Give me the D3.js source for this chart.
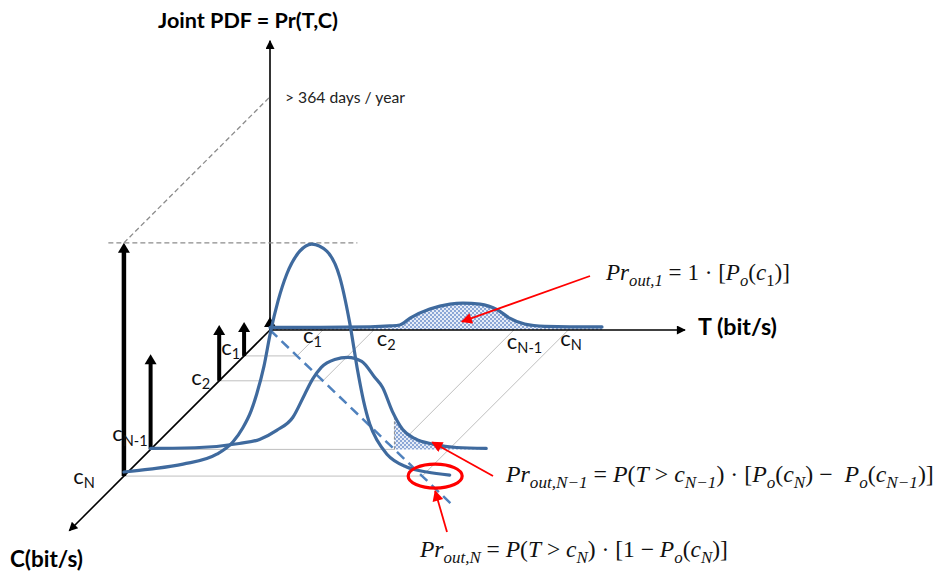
<!DOCTYPE html>
<html>
<head>
<meta charset="utf-8">
<script src="https://cdn.jsdelivr.net/npm/d3@7"></script>
<style>
  html, body { margin: 0; padding: 0; background: #fff; }
</style>
</head>
<body>
<div id="chart"></div>
<script>
// capacity levels, same units on the T axis and on the C axis
const capSubs = ["1", "2", "N-1", "N"];
const capValues = [1.02, 2.0, 4.7, 5.75];
// probability mass of C at each level (black arrows)
const capMass = [0.143, 0.235, 0.40, 0.98];
const zeroMass = 0.055;

// PDF of T on three slices: back plane, c_{N-1}, c_N
const tBack   = [0, 0.96, 1.93, 2.31, 2.50, 2.70, 3.08, 3.47, 3.72, 4.05, 4.39, 4.62, 4.91, 5.30, 5.78, 6.40];
const pdfBack = [0.011, 0.011, 0.013, 0.017, 0.021, 0.05, 0.088, 0.109, 0.113, 0.109, 0.084, 0.05, 0.025, 0.015, 0.013, 0.013];
const tNm1    = [0, 0.94, 1.71, 2.10, 2.43, 2.74, 2.97, 3.12, 3.29, 3.55, 3.80, 4.07, 4.32, 4.47, 4.66, 4.86, 5.09, 5.47, 5.90, 6.47];
const pdfNm1  = [0.004, 0.008, 0.025, 0.042, 0.080, 0.134, 0.231, 0.294, 0.345, 0.378, 0.387, 0.370, 0.303, 0.261, 0.160, 0.084, 0.046, 0.021, 0.008, 0.004];
const tN      = [0, 0.50, 1.14, 1.79, 2.10, 2.29, 2.45, 2.56, 2.70, 2.83, 2.97, 3.14, 3.39, 3.62, 3.91, 4.16, 4.35, 4.51, 4.62, 4.74, 4.89, 5.07, 5.45, 5.84, 6.28];
const pdfN    = [0.017, 0.029, 0.050, 0.092, 0.143, 0.202, 0.273, 0.345, 0.462, 0.609, 0.735, 0.849, 0.945, 0.975, 0.945, 0.836, 0.647, 0.437, 0.315, 0.218, 0.147, 0.092, 0.038, 0.017, 0.004];

// texts
const titleText = "Joint PDF = Pr(T,C)";
const tAxisText = "T (bit/s)";
const cAxisText = "C(bit/s)";
const daysText = "> 364 days / year";
const formula1 = [["Pr","i"],["out,1","si"],[" = 1 · [","n"],["P","i"],["o","si"],["(","n"],["c","i"],["1","sn"],[")]","n"]];
const formula2 = [["Pr","i"],["out,N−1","si"],[" = ","n"],["P","i"],["(","n"],["T","i"],[" > ","n"],["c","i"],["N−1","si"],[") · [","n"],["P","i"],["o","si"],["(","n"],["c","i"],["N","si"],[") −  ","n"],["P","i"],["o","si"],["(","n"],["c","i"],["N−1","si"],[")]","n"]];
const formula3 = [["Pr","i"],["out,N","si"],[" = ","n"],["P","i"],["(","n"],["T","i"],[" > ","n"],["c","i"],["N","si"],[") · [1 − ","n"],["P","i"],["o","si"],["(","n"],["c","i"],["N","si"],[")]","n"]];

const width = 936, height = 573;
const ox = 270, oy = 330;

const tScale = d3.scaleLinear().domain([0, 8]).range([0, 415]);
const cScale = d3.scaleLinear().domain([0, 7.9]).range([0, 200.7]);
const zScale = d3.scaleLinear().domain([0, 1]).range([0, 238]);

// oblique projection: T to the right, C down-left at 45deg, PDF up
const proj = (t, c, z) => [ox + tScale(t) - cScale(c), oy + cScale(c) - zScale(z)];

const svg = d3.select('#chart').append('svg')
    .attr('width', width)
    .attr('height', height)
    .style('font-family', 'Lato, "Open Sans", sans-serif');

const defs = svg.append('defs');

// light blue check pattern for the outage areas
const pat = defs.append('pattern')
    .attr('id', 'hatch')
    .attr('patternUnits', 'userSpaceOnUse')
    .attr('width', 4).attr('height', 4);
pat.append('rect').attr('width', 4).attr('height', 4).attr('fill', '#e6ecf7');
pat.append('rect').attr('width', 2).attr('height', 2).attr('fill', '#8ca7d6');
pat.append('rect').attr('x', 2).attr('y', 2).attr('width', 2).attr('height', 2).attr('fill', '#8ca7d6');

function addMarker(id, color, w, h) {
    defs.append('marker')
        .attr('id', id)
        .attr('viewBox', '0 0 10 10')
        .attr('refX', 9).attr('refY', 5)
        .attr('markerUnits', 'userSpaceOnUse')
        .attr('markerWidth', w).attr('markerHeight', h)
        .attr('orient', 'auto')
        .append('path')
        .attr('d', 'M0,0 L10,5 L0,10 Z')
        .attr('fill', color);
}
addMarker('axisHead', '#000', 11, 9);
addMarker('redHead', '#ff0000', 15, 11);

const line2 = (a, b) => svg.append('line')
    .attr('x1', a[0]).attr('y1', a[1]).attr('x2', b[0]).attr('y2', b[1]);

// floor grid: from each c on C axis and on T axis to the point T = C
capValues.forEach(c => {
    const p = proj(c, c, 0);
    line2(proj(0, c, 0), p).attr('stroke', '#bfbfbf').attr('stroke-width', 1);
    line2(proj(c, 0, 0), p).attr('stroke', '#bfbfbf').attr('stroke-width', 1);
});

// curve generators
const curveLine = (ts, zs, c) => d3.line()
    .x(i => proj(ts[i], c, zs[i])[0])
    .y(i => proj(ts[i], c, zs[i])[1])
    .curve(d3.curveMonotoneX)(d3.range(ts.length));
const curveArea = (ts, zs, c) => d3.area()
    .x(i => proj(ts[i], c, zs[i])[0])
    .y0(() => proj(0, c, 0)[1])
    .y1(i => proj(ts[i], c, zs[i])[1])
    .curve(d3.curveMonotoneX)(d3.range(ts.length));

const cNm1 = capValues[2], cN = capValues[3];

// outage areas
svg.append('path').attr('d', curveArea(tBack, pdfBack, 0)).attr('fill', 'url(#hatch)');
const xStart = proj(cNm1, cNm1, 0)[0];
defs.append('clipPath').attr('id', 'clipNm1')
    .append('rect').attr('x', xStart).attr('y', 0).attr('width', width).attr('height', height);
svg.append('path').attr('d', curveArea(tNm1, pdfNm1, cNm1))
    .attr('fill', 'url(#hatch)').attr('clip-path', 'url(#clipNm1)');
const zAtStart = d3.scaleLinear().domain(tNm1).range(pdfNm1)(cNm1);
line2(proj(cNm1, cNm1, 0), proj(cNm1, cNm1, zAtStart))
    .attr('stroke', '#8c8c8c').attr('stroke-width', 1).attr('stroke-dasharray', '3,2');

// dashed line T = C on the floor
line2(proj(0, 0, 0), proj(6.9, 6.9, 0))
    .attr('stroke', '#4f81bd').attr('stroke-width', 2.5).attr('stroke-dasharray', '10,6');

// axes
const axisStyle = s => s.attr('stroke', '#000').attr('stroke-width', 1.6).attr('marker-end', 'url(#axisHead)');
axisStyle(line2(proj(0, 0, 0), proj(0, 0, 1.215)));
axisStyle(line2(proj(0, 0, 0), proj(8, 0, 0)));
axisStyle(line2(proj(0, 0, 0), proj(0, 7.9, 0)));

// probability mass arrows
function massArrow(c, m, w) {
    const b = proj(0, c, 0), top = proj(0, c, m);
    const hl = 10, hw = 6;
    svg.append('line')
        .attr('x1', b[0]).attr('y1', b[1]).attr('x2', top[0]).attr('y2', top[1] + hl - 1)
        .attr('stroke', '#000').attr('stroke-width', w);
    svg.append('path')
        .attr('d', `M${top[0]},${top[1]} L${top[0] + hw},${top[1] + hl} L${top[0] - hw},${top[1] + hl} Z`)
        .attr('fill', '#000');
}
massArrow(0, zeroMass, 1.6);
capValues.forEach((c, i) => massArrow(c, capMass[i], i === 3 ? 4.5 : 4));

// reference dashed lines from the c_N mass
const mN = capMass[3];
line2(proj(0, cN, mN), proj(0, 0, mN))
    .attr('stroke', '#8c8c8c').attr('stroke-width', 1.3).attr('stroke-dasharray', '5,3');
line2(proj(-0.3, cN, mN), proj(4.5, cN, mN))
    .attr('stroke', '#8c8c8c').attr('stroke-width', 1.3).attr('stroke-dasharray', '5,3');

// PDF curves
const blue = '#3f6a9e';
[[tBack, pdfBack, 0], [tNm1, pdfNm1, cNm1], [tN, pdfN, cN]].forEach(([ts, zs, c]) => {
    svg.append('path').attr('d', curveLine(ts, zs, c))
        .attr('fill', 'none').attr('stroke', blue).attr('stroke-width', 3.2)
        .attr('stroke-linecap', 'round');
});

// red annotations
const red = '#ff0000';
const tip1 = proj(3.7, 0, 0.035);
line2([590, 276], tip1).attr('stroke', red).attr('stroke-width', 1.8).attr('marker-end', 'url(#redHead)');
const tip2 = proj(5.43, cNm1, 0.03);
line2([493, 476], tip2).attr('stroke', red).attr('stroke-width', 1.8).attr('marker-end', 'url(#redHead)');
const ec = proj(6.0, cN, 0);
svg.append('ellipse').attr('cx', ec[0]).attr('cy', ec[1]).attr('rx', 27).attr('ry', 12)
    .attr('fill', 'none').attr('stroke', red).attr('stroke-width', 3.2);
line2([447, 532], [ec[0], ec[1] + 15]).attr('stroke', red).attr('stroke-width', 1.8).attr('marker-end', 'url(#redHead)');

// text helpers
function fit(sel, target) {
    const w = sel.node().getComputedTextLength();
    const fs = parseFloat(sel.attr('font-size'));
    sel.attr('font-size', (fs * target / w).toFixed(2));
    return sel;
}
function label(x, y, txt, fs, weight, target) {
    const t = svg.append('text').attr('x', x).attr('y', y)
        .attr('font-size', fs).attr('font-weight', weight).attr('fill', '#000').text(txt);
    if (target) fit(t, target);
    return t;
}
label(158, 28, titleText, 20, 700, 180);
label(698, 335, tAxisText, 21, 700, 79);
label(10, 567, cAxisText, 21, 700, 73);
const dp = proj(0, 0, mN);
label(dp[0] + 15, dp[1] + 6, daysText, 14, 400, 120).attr('fill', '#222');

function capLabel(x, y, sub, anchor) {
    const t = svg.append('text').attr('x', x).attr('y', y)
        .attr('text-anchor', anchor).attr('font-size', 22).attr('fill', '#111');
    t.append('tspan').text('c');
    t.append('tspan').text(sub).attr('font-size', '0.66em').attr('dy', '0.3em');
}
// label nudges so they clear the arrows and curves
const cLabelShift = [[-4, -1], [-9, 4], [-3, -8], [-29, 8]];
const tLabelShift = [[-20, 13], [3, 16], [-7, 19], [-8, 16]];
capValues.forEach((c, i) => {
    const pc = proj(0, c, 0);
    capLabel(pc[0] + cLabelShift[i][0], pc[1] + cLabelShift[i][1], capSubs[i], 'end');
    const pt = proj(c, 0, 0);
    capLabel(pt[0] + tLabelShift[i][0], pt[1] + tLabelShift[i][1], capSubs[i], 'start');
});

function formula(x, y, segs, target) {
    const t = svg.append('text').attr('x', x).attr('y', y)
        .attr('font-family', '"Liberation Serif", "DejaVu Serif", serif')
        .attr('font-size', 20).attr('fill', '#111')
        .style('white-space', 'pre');
    let inSub = false;
    segs.forEach(([s, st]) => {
        const sub = st[0] === 's';
        const ts = t.append('tspan').text(s)
            .attr('font-style', st.endsWith('i') ? 'italic' : 'normal');
        if (sub) ts.attr('font-size', '0.72em');
        if (sub && !inSub) ts.attr('dy', '0.35em');
        if (!sub && inSub) ts.attr('dy', '-0.252em');
        inSub = sub;
    });
    fit(t, target);
}
formula(606, 280, formula1, 184);
formula(506, 482, formula2, 428);
formula(420, 557, formula3, 308);
</script>
</body>
</html>
